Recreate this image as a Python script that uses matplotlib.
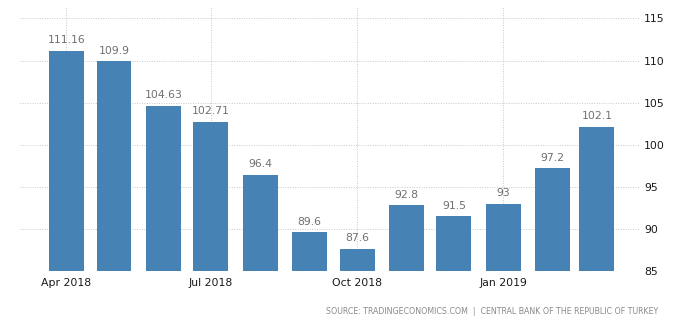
import numpy as np
import pandas as pd
import matplotlib
matplotlib.use("Agg")
import matplotlib.pyplot as plt
import matplotlib.dates as mdates

# monthly index values, Apr 2018 - Mar 2019
months = pd.date_range("2018-04-01", "2019-03-01", freq="MS")
values = [111.16, 109.9, 104.63, 102.71, 96.4, 89.6, 87.6, 92.8, 91.5, 93, 97.2, 102.1]
labels = ["111.16", "109.9", "104.63", "102.71", "96.4", "89.6", "87.6", "92.8", "91.5", "93", "97.2", "102.1"]
yticks = [85, 90, 95, 100, 105, 110, 115]
xticks = pd.to_datetime(["2018-04-01", "2018-07-01", "2018-10-01", "2019-01-01"])
xticklabels = ["Apr 2018", "Jul 2018", "Oct 2018", "Jan 2019"]

bar_color = "#4682b4"
plt.rcParams["font.family"] = ["DejaVu Sans"]

fig = plt.figure(figsize=(7, 3.26), dpi=100)
ax = fig.add_axes([0.029, 0.169, 0.885, 0.813])

base = 85
heights = [v - base for v in values]
ax.bar(months, heights, bottom=base, width=22, color=bar_color, zorder=2)

for d, v, t in zip(months, values, labels):
    ax.annotate(t, (d, v), xytext=(0, 4), textcoords="offset points",
                ha="center", va="bottom", fontsize=7.8, color="#707070")

ax.set_ylim(85, 116.5)
ax.set_xlim(pd.Timestamp("2018-03-03"), pd.Timestamp("2019-03-28"))
ax.set_yticks(yticks)
ax.set_yticklabels([str(t) for t in yticks])
ax.set_xticks(xticks)
ax.set_xticklabels(xticklabels)

ax.yaxis.tick_right()
ax.tick_params(axis="y", length=0, pad=3, labelsize=7.8, labelcolor="#1a1a1a")
ax.tick_params(axis="x", length=0, pad=5, labelsize=7.8, labelcolor="#1a1a1a")
for lbl in ax.get_yticklabels():
    lbl.set_horizontalalignment("left")

ax.grid(True, axis="both", color="#c8c8c8", linestyle=(0, (1, 1.5)), linewidth=0.7, zorder=0)
ax.set_axisbelow(True)
for s in ax.spines.values():
    s.set_visible(False)

fig.text(0.94, 0.045,
         "SOURCE: TRADINGECONOMICS.COM  |  CENTRAL BANK OF THE REPUBLIC OF TURKEY",
         ha="right", va="center", fontsize=5.7, color="#8a8a8a")

fig.savefig("out.png", dpi=100)
